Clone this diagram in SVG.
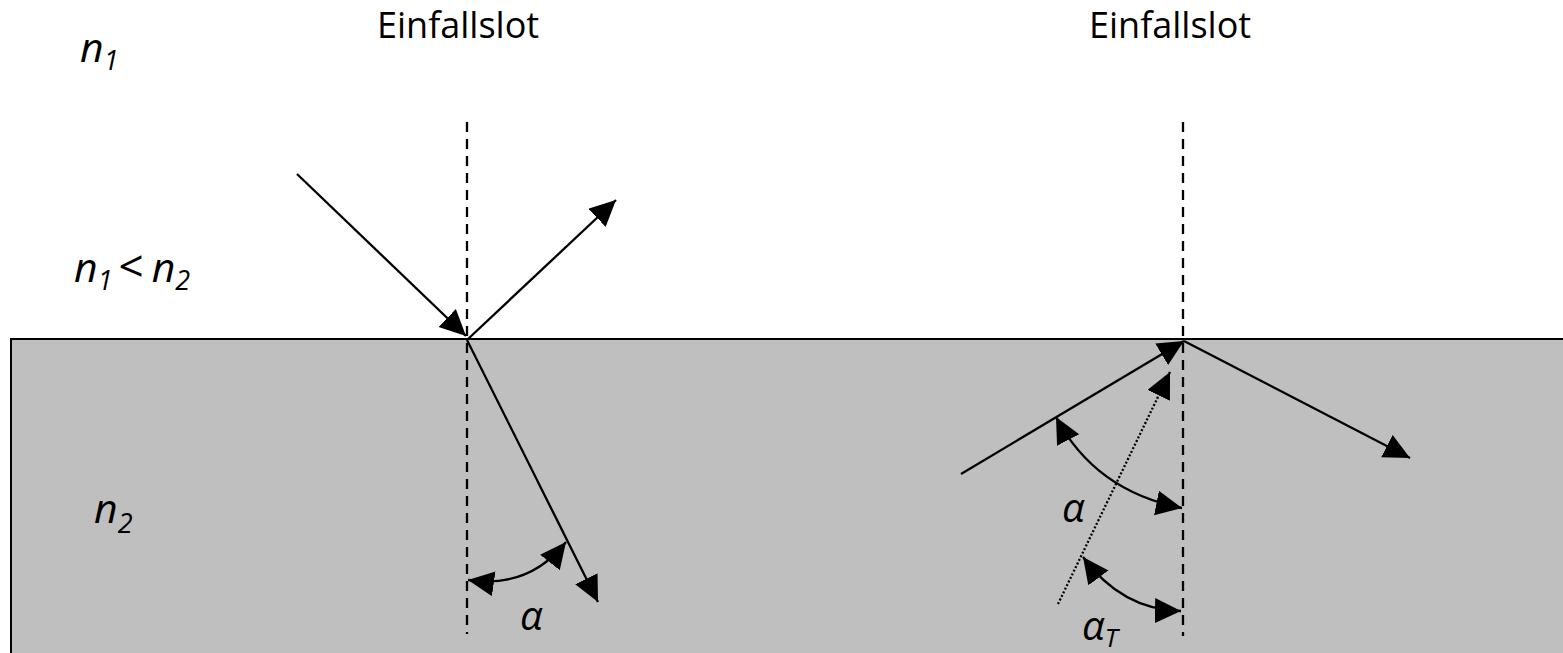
<svg xmlns="http://www.w3.org/2000/svg" width="1563" height="653" viewBox="0 0 1563 653">
<style>
.lbl{font-family:"Open Sans","Liberation Sans",sans-serif;fill:#000}
.it{font-style:italic}
.ray{stroke:#000;stroke-width:2.3;fill:none}
.normal{stroke:#000;stroke-width:2.3;stroke-dasharray:10 7;fill:none}
.dot{stroke:#000;stroke-width:2.3;stroke-dasharray:2 2;fill:none}
</style>
<defs>
<marker id="ah" markerUnits="userSpaceOnUse" markerWidth="28" markerHeight="26" refX="26" refY="12.5" orient="auto-start-reverse" viewBox="0 0 28 26">
<path d="M0,0 L26,12.5 L0,25 z" fill="#000"/>
</marker>
</defs>
<rect x="0" y="0" width="1563" height="653" fill="#fff"/>
<g id="medium2">
<rect x="11" y="339" width="1560" height="330" fill="#bfbfbf" stroke="#000" stroke-width="2"/>
</g>
<g id="labels">
<text class="lbl" x="377" y="38" font-size="36">Einfallslot</text>
<text class="lbl" x="1089" y="38" font-size="36">Einfallslot</text>
<text class="lbl it" x="80" y="62" font-size="41">n<tspan font-size="27" dy="8">1</tspan></text>
<text class="lbl it" x="74" y="282" font-size="41">n<tspan font-size="27" dy="8">1</tspan><tspan dy="-8" font-size="44" dx="6" font-style="normal">&lt;</tspan><tspan dx="8" font-size="41">n</tspan><tspan font-size="27" dy="8">2</tspan></text>
<text class="lbl it" x="94" y="523" font-size="41">n<tspan font-size="27" dy="10">2</tspan></text>
<text class="lbl it" x="520" y="630" font-size="40">α</text>
<text class="lbl it" x="1062" y="522" font-size="40">α</text>
<text class="lbl it" x="1082" y="640" font-size="40">α<tspan font-size="26" dy="7">T</tspan></text>
</g>
<g id="connectors">
<line class="normal" x1="467" y1="122" x2="467" y2="634"/>
<line class="normal" x1="1183" y1="122" x2="1183" y2="636"/>
<line class="ray" x1="297" y1="174" x2="466" y2="336" marker-end="url(#ah)"/>
<line class="ray" x1="468" y1="339" x2="616" y2="200" marker-end="url(#ah)"/>
<line class="ray" x1="467" y1="340" x2="598" y2="602" marker-end="url(#ah)"/>
<path class="ray" d="M468,580 Q529,589 566,542" marker-start="url(#ah)" marker-end="url(#ah)"/>
<line class="ray" x1="961" y1="474" x2="1184" y2="341" marker-end="url(#ah)"/>
<line class="ray" x1="1184" y1="341" x2="1410" y2="458" marker-end="url(#ah)"/>
<line class="dot" x1="1058" y1="604" x2="1170" y2="372" marker-end="url(#ah)"/>
<path class="ray" d="M1056,417 Q1095,491 1182,508" marker-start="url(#ah)" marker-end="url(#ah)"/>
<path class="ray" d="M1083,557 Q1122,610 1181,611" marker-start="url(#ah)" marker-end="url(#ah)"/>
</g>
</svg>
